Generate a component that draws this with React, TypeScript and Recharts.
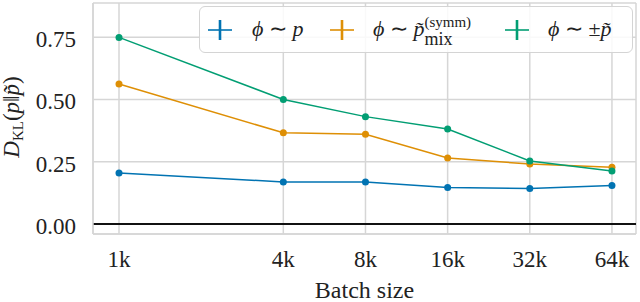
import React from 'react';
import { LineChart, Line, XAxis, YAxis, CartesianGrid, ReferenceLine } from 'recharts';

// batch sizes in thousands (log2 axis)
const batchSizes = [1, 4, 8, 16, 32, 64];
const phiP = [0.205, 0.169, 0.169, 0.147, 0.143, 0.155];
const phiMix = [0.562, 0.366, 0.36, 0.265, 0.241, 0.228];
const phiPm = [0.749, 0.5, 0.431, 0.381, 0.253, 0.213];
const yTicks = [0, 0.25, 0.5, 0.75];

const COLORS = { p: '#0173b2', mix: '#de8f05', pm: '#029e73' };
const FONT = 'Liberation Serif';
const GRID = '#d6d6d6';
const INK = '#222';
const serif = { fontFamily: FONT };

const data = batchSizes.map((b, i) => ({ batch: b, p: phiP[i], mix: phiMix[i], pm: phiPm[i] }));

function Plus({ color, left }: { color: string; left: number }) {
  return (
    <svg width={28} height={20} style={{ position: 'absolute', left: left - 14, top: 13 }}>
      <line x1={2} y1={10} x2={26} y2={10} stroke={color} strokeWidth={1.6} />
      <line x1={14} y1={0} x2={14} y2={20} stroke={color} strokeWidth={2.6} />
    </svg>
  );
}

const item = (left: number): React.CSSProperties => ({
  position: 'absolute',
  left,
  top: 0,
  height: 44,
  display: 'flex',
  alignItems: 'center',
  whiteSpace: 'nowrap',
});

function LegendBox() {
  return (
    <div
      style={{
        position: 'absolute',
        left: 199,
        top: 6,
        width: 434,
        height: 47,
        boxSizing: 'border-box',
        border: '1.5px solid #d4d4d4',
        borderRadius: 6,
        background: 'rgba(255,255,255,0.85)',
        fontFamily: FONT,
        fontSize: 22,
        color: INK,
      }}
    >
      <Plus color={COLORS.p} left={20} />
      <span style={item(52)}>
        <i>ϕ</i>&nbsp;∼&nbsp;<i>p</i>
      </span>
      <Plus color={COLORS.mix} left={142} />
      <span style={item(173)}>
        <i>ϕ</i>&nbsp;∼&nbsp;<i>p̃</i>
        <span style={{ display: 'inline-flex', flexDirection: 'column', fontSize: 15, lineHeight: '15px', marginTop: 4 }}>
          <span>(symm)</span>
          <span style={{ fontSize: 18, lineHeight: '18px' }}>mix</span>
        </span>
      </span>
      <Plus color={COLORS.pm} left={317} />
      <span style={item(348)}>
        <i>ϕ</i>&nbsp;∼&nbsp;±<i>p̃</i>
      </span>
    </div>
  );
}

function YLabel() {
  return (
    <text transform="translate(19,117) rotate(-90)" textAnchor="middle" style={serif} fontSize={23} fill={INK}>
      <tspan fontStyle="italic">D</tspan>
      <tspan fontSize={15} dy={4}>KL</tspan>
      <tspan dy={-4}>(</tspan>
      <tspan fontStyle="italic">p</tspan>
      <tspan>‖</tspan>
      <tspan fontStyle="italic">p̃</tspan>
      <tspan>)</tspan>
    </text>
  );
}

function XLabel({ viewBox }: any) {
  const cx = viewBox ? viewBox.x + viewBox.width / 2 : 364;
  return (
    <text x={cx} y={298} textAnchor="middle" style={serif} fontSize={24} fill={INK}>
      Batch size
    </text>
  );
}

function XTick({ x, y, payload }: any) {
  return (
    <text x={x} y={y + 33} textAnchor="middle" style={serif} fontSize={23} fill={INK}>
      {`${payload.value}k`}
    </text>
  );
}

function YTick({ y, payload }: any) {
  return (
    <text x={76} y={y + 10} textAnchor="end" style={serif} fontSize={23} fill={INK}>
      {payload.value.toFixed(2)}
    </text>
  );
}

export default function App() {
  return (
    <div style={{ position: 'absolute', left: 0, top: 0, width: 640, height: 302, background: '#fff', fontFamily: FONT }}>
      <LineChart width={640} height={302} data={data} margin={{ top: 3, right: 4, left: 0, bottom: 0 }}>
        <CartesianGrid stroke={GRID} strokeWidth={1.5} />
        <XAxis
          dataKey="batch"
          type="number"
          scale="log"
          domain={[0.803, 78.4]}
          allowDataOverflow
          ticks={batchSizes}
          height={68}
          tickLine={false}
          tickSize={0}
          tickMargin={0}
          axisLine={{ stroke: GRID, strokeWidth: 1.5 }}
          tick={<XTick />}
          label={<XLabel />}
        />
        <XAxis xAxisId="top" orientation="top" dataKey="batch" type="number" scale="log" domain={[0.803, 78.4]} allowDataOverflow height={0} tick={false} tickLine={false} axisLine={{ stroke: GRID, strokeWidth: 1.5 }} />
        <YAxis
          type="number"
          domain={[-0.04, 0.887]}
          allowDataOverflow
          ticks={yTicks}
          width={93}
          tickLine={false}
          axisLine={{ stroke: GRID, strokeWidth: 1.5 }}
          tick={<YTick />}
          label={<YLabel />}
        />
        <YAxis yAxisId="right" orientation="right" width={0} domain={[-0.04, 0.887]} tick={false} tickLine={false} axisLine={{ stroke: GRID, strokeWidth: 1.5 }} />
        <ReferenceLine y={0} stroke="#111" strokeWidth={2} />
        <Line dataKey="p" stroke={COLORS.p} strokeWidth={1.5} dot={{ r: 3.5, fill: COLORS.p, stroke: 'none' }} isAnimationActive={false} />
        <Line dataKey="mix" stroke={COLORS.mix} strokeWidth={1.5} dot={{ r: 3.5, fill: COLORS.mix, stroke: 'none' }} isAnimationActive={false} />
        <Line dataKey="pm" stroke={COLORS.pm} strokeWidth={1.5} dot={{ r: 3.5, fill: COLORS.pm, stroke: 'none' }} isAnimationActive={false} />
      </LineChart>
      <LegendBox />
    </div>
  );
}
